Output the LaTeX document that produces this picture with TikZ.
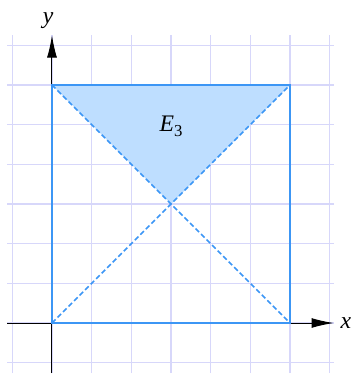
\documentclass[tikz,border=0pt]{standalone}
\usepackage{fontspec}
\setmainfont{Liberation Serif}
\usetikzlibrary{arrows.meta}
\definecolor{gridc}{RGB}{215,215,250}
\definecolor{edgec}{RGB}{60,150,245}
\definecolor{fillc}{RGB}{190,222,255}
\tikzset{
  gridline/.style={draw=gridc, line width=0.9pt},
  axis/.style={draw=black, line width=0.7pt, -{Latex[length=5.6mm,width=2.5mm]}},
  edge/.style={draw=edgec, line width=1.6pt},
  diag/.style={draw=edgec, line width=1.1pt, dash pattern=on 3.6pt off 2pt},
  lbl/.style={font=\fontsize{17}{20}\selectfont}
}
\begin{document}
\begin{tikzpicture}[x=1cm,y=1cm]
\useasboundingbox (-1.31,-1.31) rectangle (7.63,8.14);
\foreach \i in {-1,...,7} {
  \draw[gridline] (\i,-1.26) -- (\i,7.25);
}
\foreach \j in {-1,...,7} {
  \draw[gridline] (-1.13,\j) -- (7.1,\j);
}
\coordinate (O) at (0,0);
\coordinate (A) at (6,0);
\coordinate (B) at (6,6);
\coordinate (C) at (0,6);
\coordinate (M) at (3,3);
\fill[fillc] (C) -- (B) -- (M) -- cycle;
\draw[axis] (-1.13,0) coordinate (xs) -- (7.1,0) coordinate (xe);
\draw[axis] (0,-1.26) coordinate (ys) -- (0,7.25) coordinate (ye);
\node[lbl, anchor=west] (xl) at (7.15,0) {\itshape x};
\node[lbl, anchor=south] (yl) at (-0.1,7.3) {\itshape y};
\draw[diag] (O) -- (B);
\draw[diag] (C) -- (A);
\draw[edge, line join=miter] (O) -- (A) -- (B) -- (C) -- cycle;
\node[lbl] (E) at (3,4.95) {\itshape E\/\upshape\raisebox{-0.45ex}{\fontsize{12}{14}\selectfont 3}};
\end{tikzpicture}
\end{document}
